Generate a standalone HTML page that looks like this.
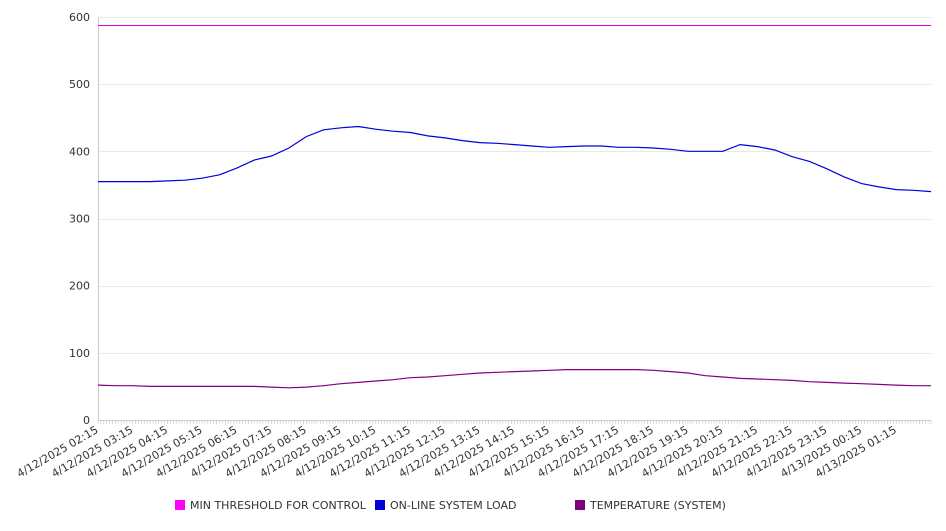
<!DOCTYPE html>
<html><head><meta charset="utf-8"><style>
body{margin:0;background:#fff;font-family:"Liberation Sans","DejaVu Sans",sans-serif}
svg text{font-family:"DejaVu Sans","Liberation Sans",sans-serif;fill:#333}
</style></head><body>
<svg id="chart" width="946" height="526" xmlns="http://www.w3.org/2000/svg"></svg>
<script>
const loadValues=[355,355,355,355,356,357,360,365,375,387,393,405,422,432,435,437,433,430,428,423,420,416,413,412,410,408,406,407,408,408,406,406,405,403,400,400,400,410,407,402,392,385,374,362,352,347,343,342,340];
const tempValues=[52,51,51,50,50,50,50,50,50,50,49,48,49,51,54,56,58,60,63,64,66,68,70,71,72,73,74,75,75,75,75,75,74,72,70,66,64,62,61,60,59,57,56,55,54,53,52,51,51];
const thresholdValue=588;
const yTicks=[0,100,200,300,400,500,600];
const xLabels=["4/12/2025 02:15","4/12/2025 03:15","4/12/2025 04:15","4/12/2025 05:15","4/12/2025 06:15","4/12/2025 07:15","4/12/2025 08:15","4/12/2025 09:15","4/12/2025 10:15","4/12/2025 11:15","4/12/2025 12:15","4/12/2025 13:15","4/12/2025 14:15","4/12/2025 15:15","4/12/2025 16:15","4/12/2025 17:15","4/12/2025 18:15","4/12/2025 19:15","4/12/2025 20:15","4/12/2025 21:15","4/12/2025 22:15","4/12/2025 23:15","4/13/2025 00:15","4/13/2025 01:15"];
const seriesNames=["MIN THRESHOLD FOR CONTROL","ON-LINE SYSTEM LOAD","TEMPERATURE (SYSTEM)"];
const seriesColors=["#e000e0","#0000dd","#800080"];

const svg=document.getElementById('chart');
const NS="http://www.w3.org/2000/svg";
const L=98,R=931,T=17,B=420,YMAX=600;
const n=loadValues.length;
const y=v=>B-(v/YMAX)*(B-T);
const xi=i=>L+(R-L)*i/(n-1);
const xh=h=>L+(R-L)*h/24;
function mk(t,a){const e=document.createElementNS(NS,t);for(const k in a)e.setAttribute(k,a[k]);svg.appendChild(e);return e;}

yTicks.forEach(v=>{
  if(v>0){const g=mk('line',{x1:L,x2:R,y1:Math.round(y(v))+0.5,y2:Math.round(y(v))+0.5,stroke:'#e8e8e8'});
  
  }
  const t=mk('text',{x:L-8,y:y(v)+4,'text-anchor':'end','font-size':11});
  t.textContent=v;
  
  
});
const ax=mk('line',{x1:L+0.5,x2:L+0.5,y1:T,y2:B,stroke:'#ccc'});


const bx=mk('line',{x1:L,x2:R,y1:B+0.5,y2:B+0.5,stroke:'#ccc'});


let d='';for(let m=0;m<=288;m++){const x=L+(R-L)*m/288;d+=`M${x.toFixed(1)},${B}v4`;}
const mt=mk('path',{d:d,stroke:'#ccc','stroke-width':0.7});


xLabels.forEach((s,i)=>{
  const x=xh(i)+1;
  const t=mk('text',{x:x,y:B+12,'text-anchor':'end','font-size':11,transform:`rotate(-30 ${x} ${B+12})`});
  t.textContent=s;
  
  
});
const ty=Math.round(y(thresholdValue))+0.5;
const th=mk('line',{x1:L,x2:R,y1:ty,y2:ty,stroke:seriesColors[0],'stroke-width':1});


function line(vals,col,name){
  const p=mk('polyline',{points:vals.map((v,i)=>xi(i).toFixed(1)+','+y(v).toFixed(1)).join(' '),fill:'none',stroke:col,'stroke-width':1.2});
  
  
}
line(loadValues,seriesColors[1],'load-line');
line(tempValues,seriesColors[2],'temperature-line');
const lx=[175,375,575];
const legendColors=["#ff00ff","#0000dd","#800080"];
seriesNames.forEach((s,i)=>{
  const r=mk('rect',{x:lx[i],y:500,width:10,height:10,fill:legendColors[i]});
  
  
  const t=mk('text',{x:lx[i]+15,y:509,'font-size':11});
  t.textContent=s;
  
  
});
</script>
</body></html>
